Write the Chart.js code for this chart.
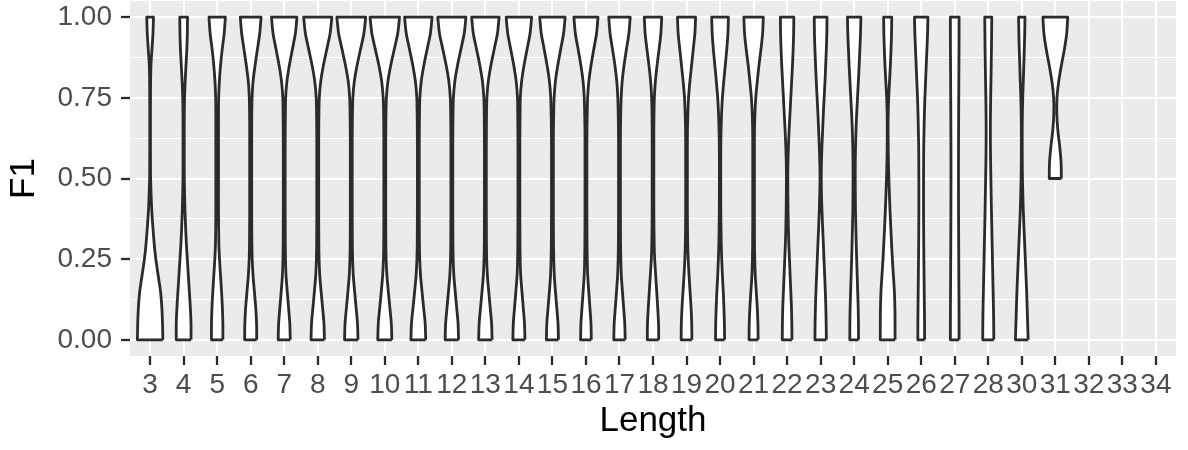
<!DOCTYPE html>
<html>
<head>
<meta charset="utf-8">
<title>F1 by Length</title>
<script src="https://cdn.jsdelivr.net/npm/chart.js@4/dist/chart.umd.min.js"></script>
<style>
    html, body { margin: 0; padding: 0; background: #fff; }
    #chart { display: block; }
</style>
</head>
<body>
<canvas id="chart" width="1188" height="450"></canvas>
<script>
// x categories (Length), one violin per entry of violinHalfWidths, in order
const xLabels = ['3', '4', '5', '6', '7', '8', '9', '10', '11', '12', '13', '14', '15', '16', '17', '18',
    '19', '20', '21', '22', '23', '24', '25', '26', '27', '28', '30', '31', '32', '33', '34'];

// F1 levels at which the violin half-width (density, in category units) is read
const f1Levels = [0, 0.05, 0.1, 0.15, 0.2, 0.25, 0.3, 0.4, 0.5, 0.55, 0.6, 0.65, 0.7, 0.75, 0.8, 0.85, 0.9, 0.95, 1];

// y ticks: major ones get labels, the rest are minor grid lines
const yTicks = [0, 0.125, 0.25, 0.375, 0.5, 0.625, 0.75, 0.875, 1];
const yLabelled = [0, 0.25, 0.5, 0.75, 1];

const violinHalfWidths = [
    [.38, .37, .35, .31, .24, .17, .12, .05, .015, .012, .01, .01, .01, .012, .015, .025, .055, .085, .1],     // 3
    [.22, .22, .2, .17, .14, .11, .08, .04, .02, .018, .018, .018, .02, .028, .045, .07, .095, .11, .115],     // 4
    [.17, .17, .155, .13, .1, .07, .05, .04, .04, .04, .04, .04, .04, .045, .065, .1, .15, .21, .245],         // 5
    [.18, .175, .15, .11, .07, .045, .035, .03, .03, .03, .03, .03, .032, .042, .07, .13, .2, .27, .31],       // 6
    [.18, .167, .13, .09, .054, .038, .032, .028, .028, .028, .028, .03, .035, .042, .08, .152, .243, .334, .38], // 7
    [.2, .186, .144, .1, .06, .04, .032, .028, .028, .028, .028, .03, .035, .046, .088, .168, .269, .37, .42],  // 8
    [.2, .186, .144, .1, .06, .04, .032, .028, .028, .028, .028, .03, .035, .047, .09, .172, .275, .378, .43],  // 9
    [.21, .195, .151, .105, .063, .04, .032, .028, .028, .028, .028, .03, .035, .048, .092, .176, .282, .387, .44], // 10
    [.22, .205, .158, .11, .066, .042, .032, .028, .028, .028, .028, .03, .035, .045, .086, .164, .262, .361, .41], // 11
    [.2, .186, .144, .1, .06, .04, .032, .028, .028, .028, .028, .03, .035, .046, .088, .168, .269, .37, .42],  // 12
    [.2, .186, .144, .1, .06, .04, .032, .028, .028, .028, .028, .03, .035, .045, .086, .164, .262, .361, .41], // 13
    [.18, .167, .13, .09, .054, .038, .032, .028, .028, .028, .028, .03, .035, .042, .08, .152, .243, .334, .38], // 14
    [.18, .167, .13, .09, .056, .04, .032, .028, .028, .028, .028, .03, .038, .05, .088, .158, .245, .334, .38], // 15
    [.16, .15, .118, .084, .052, .038, .032, .028, .028, .028, .028, .03, .038, .05, .085, .15, .232, .317, .36], // 16
    [.17, .158, .124, .088, .055, .04, .032, .028, .028, .028, .028, .03, .038, .05, .08, .135, .207, .282, .32], // 17
    [.17, .165, .14, .11, .08, .05, .035, .025, .025, .025, .025, .025, .03, .04, .07, .12, .18, .235, .26],   // 18
    [.16, .155, .135, .105, .075, .05, .035, .025, .025, .025, .025, .028, .04, .06, .1, .15, .2, .25, .27],    // 19
    [.135, .13, .115, .095, .07, .05, .035, .022, .02, .02, .022, .03, .045, .07, .11, .155, .2, .235, .25],   // 20
    [.135, .13, .11, .08, .05, .035, .028, .025, .025, .025, .025, .028, .04, .065, .11, .16, .22, .27, .29],  // 21
    [.145, .14, .13, .11, .09, .07, .05, .028, .02, .025, .04, .06, .085, .11, .135, .16, .18, .195, .2],      // 22
    [.17, .165, .155, .14, .12, .1, .08, .04, .018, .025, .04, .06, .08, .105, .13, .15, .17, .185, .19],      // 23
    [.13, .128, .12, .105, .09, .075, .062, .04, .032, .034, .042, .055, .075, .1, .125, .15, .17, .19, .2],    // 24
    [.22, .22, .215, .2, .17, .14, .115, .07, .035, .022, .015, .012, .015, .03, .055, .08, .1, .115, .12],     // 25
    [.1, .1, .095, .09, .085, .08, .075, .07, .07, .072, .075, .085, .095, .11, .13, .15, .17, .19, .2],        // 26
    [.13, .13, .128, .125, .122, .12, .118, .114, .112, .112, .113, .115, .117, .12, .122, .125, .128, .13, .13], // 27
    [.165, .162, .155, .145, .135, .125, .115, .095, .078, .07, .065, .063, .066, .072, .08, .088, .095, .1, .105], // 28
    [.19, .175, .16, .145, .125, .105, .085, .045, .02, .015, .013, .013, .018, .028, .045, .06, .075, .088, .095], // 30
    [null, null, null, null, null, null, null, null, .18, .172, .13, .075, .045, .05, .1, .18, .27, .34, .37],  // 31
];

const FONT = "'Liberation Sans', Arial, Helvetica, sans-serif";
const INK = '#2b2b2b';

// closed outline: right side upwards, left side downwards, corners doubled so the spline keeps them sharp
function violinOutline(pos, widths) {
    const side = f1Levels
        .map((y, k) => ({ y, w: widths[k] }))
        .filter((p) => p.w !== null);
    const right = side.map((p) => ({ x: pos + p.w, y: p.y }));
    const left = side.slice().reverse().map((p) => ({ x: pos - p.w, y: p.y }));
    const top = right.length - 1;
    return [
        ...right.slice(0, top), right[top], right[top],
        left[0], ...left,
        left[left.length - 1], right[0],
    ];
}

const datasets = violinHalfWidths.map((widths, i) => ({
    label: xLabels[i],
    data: violinOutline(i, widths),
    borderColor: INK,
    borderWidth: 2.8,
    borderJoinStyle: 'round',
    backgroundColor: '#ffffff',
    fill: 'shape',
    tension: 0.3,
    pointRadius: 0,
}));

const isMajorY = (v) => yLabelled.some((m) => Math.abs(m - v) < 1e-9);

const panelBackground = {
    id: 'panelBackground',
    beforeDraw(chart) {
        const { ctx, chartArea: a } = chart;
        ctx.save();
        ctx.fillStyle = '#EBEBEB';
        ctx.fillRect(a.left, a.top, a.right - a.left, a.bottom - a.top);
        ctx.restore();
    },
};

Chart.defaults.font.family = FONT;

new Chart(document.getElementById('chart'), {
    type: 'line',
    data: { datasets },
    plugins: [panelBackground],
    options: {
        responsive: false,
        animation: false,
        events: [],
        devicePixelRatio: 1,
        layout: { padding: { top: 1, right: 12, left: 0, bottom: 0 } },
        plugins: { legend: { display: false }, tooltip: { enabled: false } },
        scales: {
            x: {
                type: 'linear',
                min: -0.6,
                max: xLabels.length - 0.4,
                afterBuildTicks: (s) => { s.ticks = xLabels.map((_, i) => ({ value: i })); },
                afterFit: (s) => { s.height = 94; s.paddingLeft = 0; s.paddingRight = 0; },
                border: { display: false },
                grid: { color: '#ffffff', lineWidth: 2, tickColor: INK, tickWidth: 2.3, tickLength: 9 },
                ticks: {
                    autoSkip: false, maxRotation: 0, minRotation: 0, padding: 3,
                    color: '#4D4D4D', font: { size: 28 },
                    callback: (v) => xLabels[v],
                },
                title: { display: true, text: 'Length', color: '#000', font: { size: 35 }, padding: { top: 0, bottom: 8 } },
            },
            y: {
                type: 'linear',
                min: -0.05,
                max: 1.05,
                afterBuildTicks: (s) => { s.ticks = yTicks.map((v) => ({ value: v })); },
                afterFit: (s) => { s.width = 130; s.paddingTop = 0; s.paddingBottom = 0; },
                border: { display: false },
                grid: {
                    color: '#ffffff',
                    lineWidth: (c) => (c.tick && isMajorY(c.tick.value) ? 2 : 1.1),
                    tickColor: (c) => (c.tick && isMajorY(c.tick.value) ? INK : 'rgba(0,0,0,0)'),
                    tickWidth: 2.3,
                    tickLength: 9,
                },
                ticks: {
                    padding: 9, color: '#4D4D4D', font: { size: 28 },
                    callback: (v) => (isMajorY(v) ? v.toFixed(2) : ''),
                },
                title: { display: true, text: 'F1', color: '#000', font: { size: 35 }, padding: { top: 3, bottom: 0 } },
            },
        },
    },
});
</script>
</body>
</html>
